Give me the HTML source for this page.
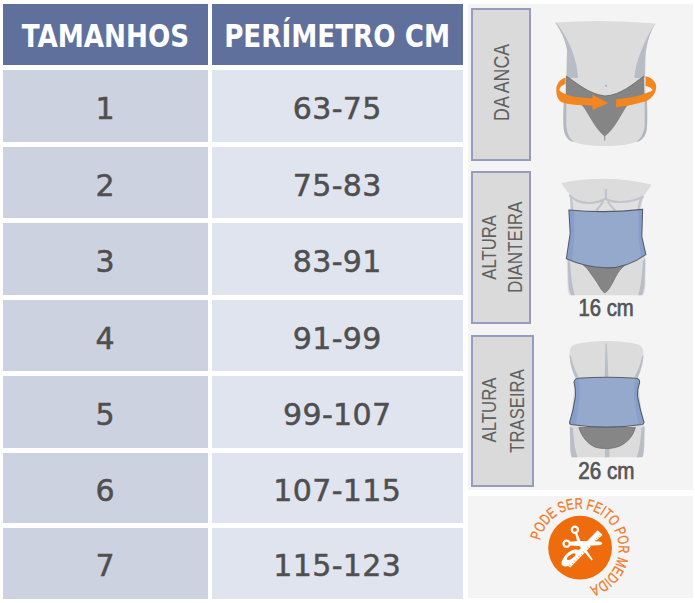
<!DOCTYPE html>
<html><head><meta charset="utf-8">
<style>
html,body{margin:0;padding:0;background:#fff;width:695px;height:603px;overflow:hidden;position:relative;font-family:"Liberation Sans",Arial,sans-serif}
.c{position:absolute;display:flex;align-items:center;justify-content:center}
.h{background:#60709d;color:#fff;font-weight:bold;font-size:31.5px;top:4px;height:61px;font-family:"DejaVu Sans Condensed","Liberation Sans",sans-serif}
.h span{display:inline-block;transform:scaleX(.925);white-space:nowrap;position:relative;top:1px}
.a{background:#cdd2e0;left:3px;width:204.5px;height:71.5px}
.b{background:#e0e4ef;left:212px;width:250.5px;height:71.5px}
.n{color:#4f4f4f;font-family:"DejaVu Sans","Liberation Sans",sans-serif;font-size:30px;-webkit-text-stroke:.5px #4f4f4f;letter-spacing:.35px}
.n span{display:inline-block;position:relative;top:2.2px}
.panel{position:absolute;background:#f4f4f4}
.box{position:absolute;background:#dadada;border:2px solid #959cbe;box-sizing:border-box}
</style></head><body>
<div class="c h" style="left:3px;width:204.5px"><span>TAMANHOS</span></div>
<div class="c h" style="left:212px;width:250.5px"><span>PERÍMETRO CM</span></div>

<div class="c a n" style="top:70px;height:71.8px"><span>1</span></div>
<div class="c b n" style="top:70px;height:71.8px"><span>63-75</span></div>
<div class="c a n" style="top:146.8px;height:71.6px"><span style="top:3.2px">2</span></div>
<div class="c b n" style="top:146.8px;height:71.6px"><span style="top:3.2px">75-83</span></div>
<div class="c a n" style="top:223.2px;height:71.8px"><span>3</span></div>
<div class="c b n" style="top:223.2px;height:71.8px"><span>83-91</span></div>
<div class="c a n" style="top:299.5px;height:71.9px"><span style="top:2.9px">4</span></div>
<div class="c b n" style="top:299.5px;height:71.9px"><span style="top:2.9px">91-99</span></div>
<div class="c a n" style="top:376px;height:71.8px"><span>5</span></div>
<div class="c b n" style="top:376px;height:71.8px"><span>99-107</span></div>
<div class="c a n" style="top:452.5px;height:70.5px"><span style="top:3.2px">6</span></div>
<div class="c b n" style="top:452.5px;height:70.5px"><span style="top:3.2px">107-115</span></div>
<div class="c a n" style="top:528px;height:71.2px"><span>7</span></div>
<div class="c b n" style="top:528px;height:71.2px"><span>115-123</span></div>

<div class="panel" style="left:468px;top:4px;width:225px;height:486px"></div>
<div class="panel" style="left:468px;top:495.5px;width:224.5px;height:102px"></div>

<div class="box" style="left:471px;top:8px;width:60px;height:153px"></div>
<div class="box" style="left:471px;top:171px;width:60px;height:152.5px"></div>
<div class="box" style="left:471px;top:335px;width:62.5px;height:152px"></div>



<svg width="695" height="603" viewBox="0 0 695 603" style="position:absolute;left:0;top:0">
<!-- labels -->
<g font-family="Liberation Sans" fill="#606060">
<text transform="translate(508.6,120.9) rotate(-90) scale(0.807,1)" font-size="22">DA ANCA</text>
<text transform="translate(495.5,279.7) rotate(-90) scale(0.796,1)" font-size="21">ALTURA</text>
<text transform="translate(522.1,292.9) rotate(-90) scale(0.817,1)" font-size="21">DIANTEIRA</text>
<text transform="translate(496.4,442.5) rotate(-90) scale(0.80,1)" font-size="21">ALTURA</text>
<text transform="translate(523.8,452.7) rotate(-90) scale(0.795,1)" font-size="21">TRASEIRA</text>
</g>
<g font-family="Liberation Sans" fill="#555" stroke="#555" stroke-width="0.7" font-size="23.2">
<text transform="translate(578.5,316) scale(0.875,1)">16 cm</text>
<text transform="translate(578.2,478.7) scale(0.89,1)">26 cm</text>
</g>
<!-- illustration 1: torso DA ANCA -->
<g>
<path d="M555.2,22.5 Q605,19 655.7,23.5 C650,31 646,45 645.3,58 L645,75 C645.5,95 647.5,110 647,128 C646,140 635,146 605,146 C578,146 565,141 564,130 C563,115 563.5,95 566.5,75 L567,50 C565,38 560,30 555.2,22.5 Z" fill="#dcdcdc"/>
<path d="M555.2,22.5 C560,30 565,38 567,50 L566.5,78 L578,78 C577,62 572,44 557,23.5 Z" fill="#b8bcc5"/>
<path d="M655.7,23.5 C650,31 646,45 645.3,58 L645,78 L634.4,78 C635,62 645,40 652.8,27 Z" fill="#b8bcc5"/>
<path d="M564,100 C563,115 563,125 564,131 C566,139 570,141.5 574,142 C568.5,138 566.5,131 566.3,124 L566.3,100 Z" fill="#b3b7c0"/>
<path d="M647,100 C647.5,115 647.5,125 646.5,131 C644.5,139 640,141.5 636,142 C642,138 644.5,131 644.7,124 L644.7,100 Z" fill="#b3b7c0"/>
<path d="M566,76 C576,82 588,94 605,96 C621,95 633,84 644,76 L644.5,100 L627.4,105.5 C622,112 616,128 604.7,136.5 C594,128 588,112 582,105.5 L566,101 Z" fill="#858585"/>
<path d="M566,76 C576,82 588,94 605,96 C621,95 633,84 644,76" fill="none" stroke="#666" stroke-width="0.8"/>
<line x1="604.7" y1="136" x2="604.7" y2="140.5" stroke="#8a8a8a" stroke-width="1"/>
<ellipse cx="606" cy="85.8" rx="0.6" ry="1" fill="#888"/>
<g fill="#f3861f">
<path d="M565.6,77.6 C560,79 556.3,84 556.3,89.9 C556.3,96 558,100 562,102.3 C568,104.5 578,105.5 594.5,105.8 L594.5,98.4 C580,97.8 570,96.5 566.6,94.5 C563,93 560,91.5 559.3,89.9 C560,87 562,85 565.6,84 Z"/>
<path d="M592.5,94.8 L608.3,103.1 L592.5,110 Z"/>
<path d="M645.5,76.3 C650,77 656.2,81 656.2,86.5 C656.2,93 652,99 645,101.5 C636,104 626,106.5 616.1,107.2 L616.1,99.2 C628,98 637,96.5 642,94.5 C646,93 651,91.5 652.8,89.9 C651,87.5 648.5,86.2 645.5,85.9 Z"/>
</g>
</g>
<!-- illustration 2: front torso -->
<g>
<path d="M561.4,183 Q606,174 651.5,184.5 C649,189 646,193 643.6,196.4 C641,201 640,205 639.9,212 L642,240 L645.8,262 L645.3,286 C644.8,291 644,294 643,295.3 L569.5,295.3 C568.5,294 567.8,291 567.6,286 L566.8,262 L570,240 L570.7,212 C570.5,204 570,199 569.3,194.1 C566,190 563.5,186.5 561.4,183 Z" fill="#dcdcdc"/>
<path d="M570,197 C574,201 580,203 590,203 C597,202.5 602,201 605.5,199 C609,201 614,202 621,202 C630,201.5 637,199.5 643.2,196.8 L640.5,212 L571,212 Z" fill="#e0e0e0"/>
<path d="M569.5,195 C574,200.5 580,203 589,203 C597,202.7 602,201 605.5,198.5 C609,201 614,202.2 621,202 C630,201.7 637,199.7 643.6,196.4 M605.9,189 L605.9,198.7 M603.2,201.5 C601,205 598.5,208 596.3,210.5 M607.7,201.5 C610,205 612.5,208 615.2,210.6" fill="none" stroke="#c1c4cb" stroke-width="2.2"/>
<path d="M569.5,195 C570.4,200 570.8,205 570.8,212 L573.5,212 C573.5,205 572.5,200 571.5,197 Z M643.6,196.4 C641.5,201 640,205 639.9,212 L637.5,212 C637.5,205 639,200 641,198 Z" fill="#c3c6cd"/>
<path d="M567.8,259 C568.2,270 568.3,278 568.4,283.2 C568.8,289 569.8,293 571.3,295.3 L574.7,295.3 C572.5,287 571,278 570.1,262.4 Z" fill="#b9bdc6"/>
<path d="M645.2,258 C644.8,270 644.7,278 644.6,283.2 C644.2,289 643.2,293 641.7,295.3 L638.3,295.3 C640.5,287 642,278 642.9,261.4 Z" fill="#b9bdc6"/>
<path d="M583.4,265 L626,264.5 C621,268 618,272 615,278 C612,284 609,290 605.5,292.6 C603.5,292.8 602.5,291 601,289 C598,284 595,279 591,274 C588.5,270 586,267 583.4,265 Z" fill="#858585" stroke="#6a6a6a" stroke-width="0.7"/>
<path d="M568.9,210 Q605,213.5 642.6,209.4 L641.8,236.5 L645.8,254.6 Q626,268.5 605.8,267.8 Q585,267 566.4,258.7 L570.2,233.3 Z" fill="#95a9cd"/>
<path d="M569.4,210.5 L574,211 L574.5,234 L572,260 L567.3,258.5 L570.7,233.3 Z" fill="#889ecb"/>
<path d="M642.1,210 L638.5,210.5 L638.5,236 L641,257 L645.3,254.7 L641.3,236.5 Z" fill="#889ecb"/>
<path d="M568.9,210 Q605,213.5 642.6,209.4 L641.8,236.5 L645.8,254.6 Q626,268.5 605.8,267.8 Q585,267 566.4,258.7 L570.2,233.3 Z" fill="none" stroke="#565c6b" stroke-width="1.1"/>
</g>
<!-- illustration 3: back torso -->
<g>
<path d="M569.5,356 C569.5,349 571,345.5 575,344.5 C582,342.5 595,341 606.5,341 C618,341 631,342.5 638,344.5 C642,345.5 643.5,349 643.5,356 L638,378 L640,400 L644.6,428.6 L644.3,446 C643.8,452 642.8,456 641.5,457.2 L571.8,457.2 C570.8,456 570.2,452 570.1,446 L569.9,428.6 L573,400 L575,378 Z" fill="#dcdcdc"/>
<path d="M569.5,355 C570,364 572.5,372 575.7,378 L578.6,377 C575,370 572,363 571.1,356.7 Z" fill="#b9bdc6"/>
<path d="M643.5,355 C643,364 640.5,372 637.5,378 L634.6,377 C638,370 641,363 641.9,356.7 Z" fill="#b9bdc6"/>
<path d="M605.6,343.5 L606.8,343.5 L608.4,377.5 L604.7,377.5 Z" fill="#b9bdc6"/>
<path d="M569.8,426.5 L570.2,446.2 C570.4,452 571,455.5 571.8,457.2 L577.6,457.2 C575,450 573.5,440 572.9,428 Z" fill="#b9bdc6"/>
<path d="M644.5,426.5 L644.1,446.2 C643.9,452 643.3,455.5 642.5,457.2 L636.7,457.2 C639.3,450 640.8,440 641.4,428 Z" fill="#b9bdc6"/>
<path d="M604.9,447 L609.4,447 L609.4,457.2 L604.9,457.2 Z" fill="#b9bdc6"/>
<path d="M578.8,427.5 L635.4,427.5 C633,436 628,442 620,446 C615,448 610,448.6 606.8,448.6 C602,448.6 598,448 594.8,447 C587,443.5 581.5,436 578.8,427.5 Z" fill="#868686" stroke="#6a6a6a" stroke-width="0.7"/>
<path d="M578.3,378.2 Q607,376.2 636.1,378.2 Q639.8,378.8 639.6,382.6 Q637,390 637.5,396.1 Q640,410 644,422.5 Q644,424 642,424.5 Q606.5,429.8 571,424.5 Q569.4,424 569.6,422.5 Q573.5,410 575.5,396.1 Q576,390 574.1,382 Q574.5,378.8 578.3,378.2 Z" fill="#95a9cd"/>
<path d="M574.6,382 Q576.5,390 576,396 Q574,410 570.3,423.5 L575.5,425 Q578.5,410 579.5,396 Q580,388 578.5,379 Z" fill="#889ecb"/>
<path d="M639.1,382.5 Q637,390 637.3,396 Q639.5,410 643.3,423 L638.5,424.5 Q635.5,410 634,396 Q633.5,388 635,379 Z" fill="#889ecb"/>
<path d="M578.3,378.2 Q607,376.2 636.1,378.2 Q639.8,378.8 639.6,382.6 Q637,390 637.5,396.1 Q640,410 644,422.5 Q644,424 642,424.5 Q606.5,429.8 571,424.5 Q569.4,424 569.6,422.5 Q573.5,410 575.5,396.1 Q576,390 574.1,382 Q574.5,378.8 578.3,378.2 Z" fill="none" stroke="#565c6b" stroke-width="1.1"/>
</g>
<!-- badge -->
<g>
<circle cx="580.1" cy="547.7" r="31.9" fill="#ef6c0c"/>
<g font-family="Liberation Sans" font-size="15.2" fill="#f07a2a" stroke="#f07a2a" stroke-width="0.3" text-anchor="middle">
<text transform="translate(541.11,536.86) rotate(-73.10) scale(0.735,1)">P</text>
<text transform="translate(544.24,529.39) rotate(-61.40) scale(0.735,1)">O</text>
<text transform="translate(549.02,522.49) rotate(-49.25) scale(0.735,1)">D</text>
<text transform="translate(554.66,517.12) rotate(-38.00) scale(0.735,1)">E</text>
<text transform="translate(563.78,511.77) rotate(-22.69) scale(0.735,1)">S</text>
<text transform="translate(570.92,509.55) rotate(-11.89) scale(0.735,1)">E</text>
<text transform="translate(578.66,508.70) rotate(-0.64) scale(0.735,1)">R</text>
<text transform="translate(589.15,509.99) rotate(14.66) scale(0.735,1)">F</text>
<text transform="translate(595.88,512.42) rotate(25.01) scale(0.735,1)">E</text>
<text transform="translate(600.52,514.98) rotate(32.66) scale(0.735,1)">I</text>
<text transform="translate(604.54,517.92) rotate(39.86) scale(0.735,1)">T</text>
<text transform="translate(610.00,523.47) rotate(51.10) scale(0.735,1)">O</text>
<text transform="translate(615.73,533.08) rotate(67.31) scale(0.735,1)">P</text>
<text transform="translate(618.07,540.83) rotate(79.01) scale(0.735,1)">O</text>
<text transform="translate(618.79,549.20) rotate(91.16) scale(0.735,1)">R</text>
<text transform="translate(616.80,560.83) rotate(108.25) scale(0.735,1)">M</text>
<text transform="translate(613.34,568.49) rotate(120.40) scale(0.735,1)">E</text>
<text transform="translate(608.76,574.78) rotate(131.65) scale(0.735,1)">D</text>
<text transform="translate(604.75,578.70) rotate(139.75) scale(0.735,1)">I</text>
<text transform="translate(600.23,582.01) rotate(147.85) scale(0.735,1)">D</text>
<text transform="translate(593.26,585.49) rotate(159.10) scale(0.735,1)">A</text>
</g>
<g fill="#fff">
<ellipse cx="569.8" cy="559.6" rx="9.6" ry="5.2" transform="rotate(-35 569.8 559.6)"/>
<ellipse cx="571.6" cy="556.4" rx="9.6" ry="5.2" transform="rotate(-35 571.6 556.4)"/>
<path d="M578.5,550.5 L586.5,542.3 L590.9,546.6 L570.2,567.4 L567,565 Z"/>
<path d="M586.8,541.5 L597.6,530.2 L602.6,535 L591.3,545 Z"/>
</g>
<ellipse cx="571.2" cy="556.6" rx="5" ry="1.9" transform="rotate(-35 571.2 556.6)" fill="#ef6c0c"/>
<path d="M591.41,542.65 l1.36,1.47 M593.02,541.15 l0.82,0.88 M594.64,539.65 l1.36,1.47 M596.26,538.15 l0.82,0.88 M597.88,536.65 l1.36,1.47 M599.49,535.15 l0.82,0.88 M588.67,548.31 l-1.54,-1.57 M586.42,550.53 l-0.93,-0.94 M584.16,552.76 l-1.54,-1.57 M581.91,554.98 l-0.93,-0.94 M579.65,557.20 l-1.54,-1.57 M577.39,559.42 l-0.93,-0.94 M575.14,561.64 l-1.54,-1.57 M572.88,563.87 l-0.93,-0.94 M570.63,566.09 l-1.54,-1.57" stroke="#ef6c0c" stroke-width="0.7" fill="none"/>
<g fill="#fff">
<path d="M575,533 L577,532.4 L580.8,541.8 L592.8,559.6 L591.6,560.6 L578,544.4 Z"/>
<path d="M569.5,541.8 L578,540.9 L599.5,541.5 Q603.2,542.6 602,544 Q601,545.2 598.8,545.3 L580,545.9 L569.5,545.4 Z"/>
</g>
<g fill="none" stroke="#fff">
<circle cx="574.9" cy="529.8" r="3.1" stroke-width="2.2"/>
<circle cx="566.6" cy="543.8" r="3.1" stroke-width="2.2"/>
</g>
</g>

</svg>
</body></html>
